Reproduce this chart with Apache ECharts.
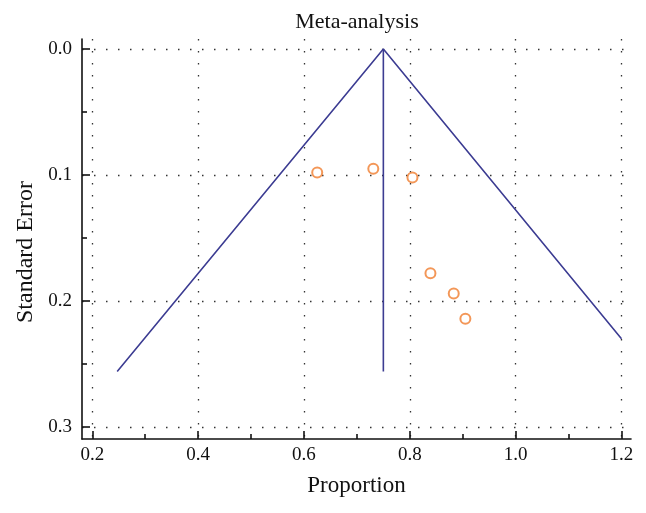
<!DOCTYPE html>
<html>
<head>
<meta charset="utf-8">
<script src="https://cdn.jsdelivr.net/npm/echarts@6/dist/echarts.min.js"></script>
<style>html,body{margin:0;padding:0;background:#fff;}#c{width:646px;height:513px;}</style>
</head>
<body>
<div id="c"></div>
<script>
// ---- data ----
var studyProportion = [0.625, 0.731, 0.805, 0.839, 0.883, 0.905];
var studySE = [0.098, 0.095, 0.102, 0.178, 0.194, 0.214];
var pooledEstimate = 0.75;
var funnelX = [0.247, 0.75, 1.2];
var funnelSE = [0.256, 0.0, 0.230];
var centerX = [0.75, 0.75];
var centerSE = [0.0, 0.256];
var xMajorTicks = [0.2, 0.4, 0.6, 0.8, 1.0, 1.2];
var xMinorTicks = [0.3, 0.5, 0.7, 0.9, 1.1];
var yMajorTicks = [0.0, 0.1, 0.2, 0.3];
var yMinorTicks = [0.05, 0.15, 0.25];

var FONT = '"Liberation Serif", "DejaVu Serif", serif';
var X_MIN = 0.1805, X_MAX = 1.218, Y_MIN = -0.008, Y_MAX = 0.3095;
var GRID = { left: 82, right: 15, top: 39, bottom: 74 };
var GRID_W = 646 - GRID.left - GRID.right;
var GRID_H = 513 - GRID.top - GRID.bottom;

function zip(a, b) { return a.map(function (v, i) { return [v, b[i]]; }); }

var dotted = { color: '#333', width: 1.3, type: [1.5, 10.5] };
var tickStyle = { color: '#111', width: 1.6 };

var chart = echarts.init(document.getElementById('c'), null, { renderer: 'canvas' });
chart.setOption({
  animation: false,
  backgroundColor: '#fff',
  title: {
    text: 'Meta-analysis', left: 352, top: 6, textAlign: 'center',
    textStyle: { fontFamily: FONT, fontSize: 22, fontWeight: 'normal', color: '#111' }
  },
  grid: { left: GRID.left, right: GRID.right, top: GRID.top, bottom: GRID.bottom, containLabel: false },
  xAxis: [{
    type: 'value', min: X_MIN, max: X_MAX, position: 'bottom',
    name: 'Proportion', nameLocation: 'middle', nameGap: 35,
    nameTextStyle: { fontFamily: FONT, fontSize: 23, color: '#111' },
    axisLine: { show: true, onZero: false, lineStyle: { color: '#111', width: 1.6 } },
    axisTick: { show: true, inside: true, length: 8, customValues: xMajorTicks, lineStyle: tickStyle },
    axisLabel: { show: true, customValues: xMajorTicks, margin: 7, fontFamily: FONT, fontSize: 19, color: '#111',
      formatter: function (v) { return v.toFixed(1); } },
    splitLine: { show: true, lineStyle: dotted }
  }, {
    // minor ticks, drawn on the bottom edge via offset
    type: 'value', min: X_MIN, max: X_MAX, position: 'top', offset: -GRID_H,
    axisLine: { show: false },
    axisTick: { show: true, inside: false, length: 5, customValues: xMinorTicks, lineStyle: tickStyle },
    axisLabel: { show: false },
    splitLine: { show: false }
  }],
  yAxis: [{
    type: 'value', min: Y_MIN, max: Y_MAX, inverse: true, position: 'left',
    name: 'Standard Error', nameLocation: 'middle', nameGap: 42, nameRotate: 90,
    nameTextStyle: { fontFamily: FONT, fontSize: 24, color: '#111', padding: [0, 26, 0, 0] },
    axisLine: { show: true, onZero: false, lineStyle: { color: '#111', width: 1.6 } },
    axisTick: { show: true, inside: true, length: 8, customValues: yMajorTicks, lineStyle: tickStyle },
    axisLabel: { show: true, customValues: yMajorTicks, margin: 10, fontFamily: FONT, fontSize: 19, color: '#111',
      formatter: function (v) { return v.toFixed(1); } },
    splitLine: { show: true, lineStyle: dotted }
  }, {
    // minor ticks, drawn on the left edge via offset
    type: 'value', min: Y_MIN, max: Y_MAX, inverse: true, position: 'right', offset: -GRID_W,
    axisLine: { show: false },
    axisTick: { show: true, inside: false, length: 5, customValues: yMinorTicks, lineStyle: tickStyle },
    axisLabel: { show: false },
    splitLine: { show: false }
  }],
  series: [{
    type: 'line', xAxisIndex: 0, yAxisIndex: 0, data: zip(funnelX, funnelSE),
    symbol: 'none', lineStyle: { color: '#3c3c92', width: 1.6 }, silent: true, z: 3
  }, {
    type: 'line', xAxisIndex: 0, yAxisIndex: 0, data: zip(centerX, centerSE),
    symbol: 'none', lineStyle: { color: '#3c3c92', width: 1.6 }, silent: true, z: 3
  }, {
    type: 'scatter', xAxisIndex: 0, yAxisIndex: 0, data: zip(studyProportion, studySE),
    symbol: 'circle', symbolSize: 10,
    itemStyle: { color: '#fff', borderColor: '#f07d2e', borderWidth: 2 }, z: 4
  }]
});
</script>
</body>
</html>
